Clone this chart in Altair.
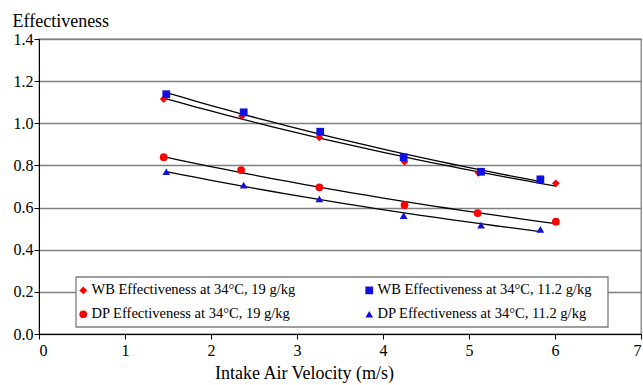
import altair as alt
import pandas as pd

series_names = [
    "WB Effectiveness at 34°C, 19 g/kg",
    "DP Effectiveness at 34°C, 19 g/kg",
    "WB Effectiveness at 34°C, 11.2 g/kg",
    "DP Effectiveness at 34°C, 11.2 g/kg",
]
series_colors = ["#ff0000", "#ff0000", "#1010e0", "#1010e0"]
series_shapes = ["diamond", "circle", "square", "triangle-up"]

wb19_x = [1.45, 2.36, 3.26, 4.25, 5.11, 6.01]
wb19_y = [1.115, 1.035, 0.933, 0.818, 0.765, 0.715]
wb11_x = [1.48, 2.38, 3.27, 4.24, 5.14, 5.83]
wb11_y = [1.138, 1.052, 0.96, 0.839, 0.77, 0.734]
dp19_x = [1.45, 2.35, 3.26, 4.25, 5.10, 6.01]
dp19_y = [0.839, 0.778, 0.696, 0.612, 0.574, 0.533]
dp11_x = [1.48, 2.38, 3.26, 4.24, 5.14, 5.83]
dp11_y = [0.77, 0.707, 0.641, 0.562, 0.517, 0.497]

series_x = {series_names[0]: wb19_x, series_names[1]: dp19_x,
            series_names[2]: wb11_x, series_names[3]: dp11_x}
series_y = {series_names[0]: wb19_y, series_names[1]: dp19_y,
            series_names[2]: wb11_y, series_names[3]: dp11_y}

rows = []
for name in series_names:
    for x, y in zip(series_x[name], series_y[name]):
        rows.append({"series": name, "v": x, "e": y})
df = pd.DataFrame(rows)

FONT = "Liberation Serif"

x_axis = alt.Axis(
    title="Intake Air Velocity (m/s)", values=list(range(8)), format="d",
    grid=False, domainColor="black", tickColor="black", tickSize=5,
    labelPadding=3, titlePadding=6, titleX=265,
    labelFont=FONT, titleFont=FONT, labelFontSize=16, titleFontSize=18,
)
y_axis = alt.Axis(
    title="Effectiveness", values=[0, 0.2, 0.4, 0.6, 0.8, 1.0, 1.2, 1.4], format=".1f",
    grid=True, gridColor="#7f7f7f", gridWidth=1.3, domainColor="black", tickColor="black",
    tickSize=5, labelPadding=1, titleAngle=0, titleAlign="left", titleBaseline="alphabetic",
    titleX=-27, titleY=-13,
    labelFont=FONT, titleFont=FONT, labelFontSize=16, titleFontSize=18,
)
x_scale = alt.Scale(domain=[0, 7], nice=False)
y_scale = alt.Scale(domain=[0, 1.4], nice=False)

legend_box = alt.Chart(pd.DataFrame({"k": [0]})).mark_rect(
    fill="white", stroke="#7f7f7f", strokeWidth=1.3
).encode(
    x=alt.value(37), x2=alt.value(569), y=alt.value(238), y2=alt.value(288)
)

points = alt.Chart(df).mark_point(filled=True, opacity=1, size=60).encode(
    x=alt.X("v:Q", scale=x_scale, axis=x_axis),
    y=alt.Y("e:Q", scale=y_scale, axis=y_axis),
    color=alt.Color("series:N", scale=alt.Scale(domain=series_names, range=series_colors),
                    legend=alt.Legend(title=None, orient="none", legendX=33, legendY=240,
                                      columns=2, columnPadding=66, rowPadding=9,
                                      padding=4,
                                      labelFont=FONT, labelFontSize=14.5, labelColor="black",
                                      labelOffset=1, symbolSize=60, labelLimit=400)),
    shape=alt.Shape("series:N", scale=alt.Scale(domain=series_names, range=series_shapes)),
)

trend = alt.Chart(df).transform_regression(
    "v", "e", groupby=["series"], method="exp"
).mark_line(color="black", strokeWidth=1.3).encode(
    x=alt.X("v:Q", scale=x_scale, axis=x_axis),
    y=alt.Y("e:Q", scale=y_scale, axis=y_axis),
    detail="series:N",
)

chart = alt.layer(legend_box, trend, points).properties(
    width=602, height=295,
    background="white",
    autosize=alt.AutoSizeParams(type="none"),
    padding={"left": 39, "top": 39, "right": 2, "bottom": 51},
).configure(
    font=FONT,
    style={"guide-label": {"font": FONT}, "guide-title": {"font": FONT}},
).configure_view(
    stroke="#7f7f7f", strokeWidth=1.3
).configure_axis(
    labelFont=FONT, titleFont=FONT,
    labelColor="black", titleColor="black", titleFontWeight="normal",
)

chart.save("out.html", embed_options={"renderer": "svg", "actions": False})
